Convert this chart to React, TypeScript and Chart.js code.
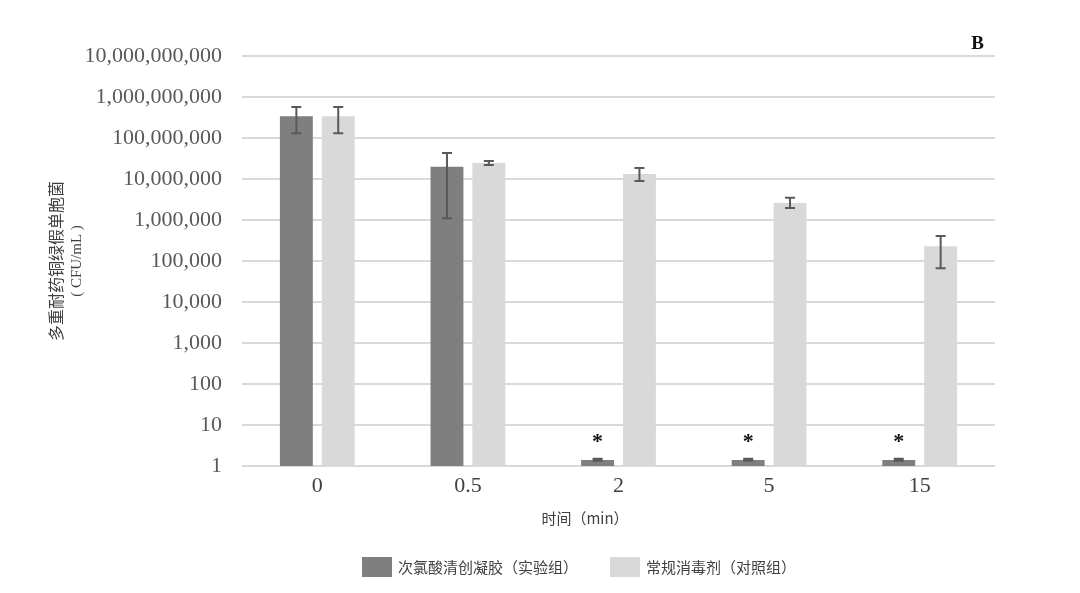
import { useEffect, useRef } from "react";
import Chart from "chart.js/auto";

const categories = ["0", "0.5", "2", "5", "15"];
const seriesNames = ["次氯酸清创凝胶（实验组）", "常规消毒剂（对照组）"];

const gelMeans = [3.4e8, 2.0e7, 1.4, 1.4, 1.4];
const gelHigh = [5.7e8, 4.3e7, 1.5, 1.5, 1.5];
const gelLow = [1.3e8, 1.1e6, 1.35, 1.35, 1.35];

const ctrlMeans = [3.4e8, 2.45e7, 1.32e7, 2.6e6, 2.3e5];
const ctrlHigh = [5.7e8, 2.75e7, 1.86e7, 3.5e6, 4.1e5];
const ctrlLow = [1.3e8, 2.2e7, 8.9e6, 1.95e6, 6.7e4];

const significant = [false, false, true, true, true];

const yTicks = [1, 10, 100, 1e3, 1e4, 1e5, 1e6, 1e7, 1e8, 1e9, 1e10];

const yTitle = ["多重耐药铜绿假单胞菌", "( CFU/mL )"];
const xTitle = "时间（min）";
const panelLabel = "B";

const DARK = "#7f7f7f";
const LIGHT = "#d9d9d9";
const SERIF = "'Liberation Serif', serif";
const SANS = "'Noto Sans CJK SC', 'Noto Sans', sans-serif";

export default function App() {
  const chartRef = useRef<HTMLCanvasElement>(null);
  const chartInstance = useRef<Chart | null>(null);

  useEffect(() => {
    document.body.style.margin = "0";
    if (!chartRef.current) return;
    const ctx = chartRef.current.getContext("2d");
    if (!ctx) return;

    const highs = [gelHigh, ctrlHigh];
    const lows = [gelLow, ctrlLow];

    // error bars, asterisks, titles, legend
    const extras = {
      id: "extras",
      afterDatasetsDraw(chart: any) {
        const c = chart.ctx;
        const y = chart.scales.y;
        c.save();
        c.strokeStyle = "#595959";
        c.lineWidth = 2;
        for (let d = 0; d < 2; d++) {
          const meta = chart.getDatasetMeta(d);
          meta.data.forEach((bar: any, i: number) => {
            const yh = y.getPixelForValue(highs[d][i]);
            const yl = y.getPixelForValue(lows[d][i]);
            c.beginPath();
            c.moveTo(bar.x, yh);
            c.lineTo(bar.x, yl);
            c.moveTo(bar.x - 5, yh);
            c.lineTo(bar.x + 5, yh);
            c.moveTo(bar.x - 5, yl);
            c.lineTo(bar.x + 5, yl);
            c.stroke();
          });
        }
        // significance marks
        const gelMeta = chart.getDatasetMeta(0);
        c.fillStyle = "#111";
        c.font = `bold 22px ${SERIF}`;
        c.textAlign = "center";
        c.textBaseline = "middle";
        gelMeta.data.forEach((bar: any, i: number) => {
          if (!significant[i]) return;
          const top = y.getPixelForValue(gelHigh[i]);
          c.fillText("*", bar.x, top - 16);
        });
        c.restore();
      },
      afterDraw(chart: any) {
        const c = chart.ctx;
        const area = chart.chartArea;
        c.save();
        // panel label
        c.fillStyle = "#111";
        c.font = `bold 19px ${SERIF}`;
        c.textAlign = "right";
        c.textBaseline = "middle";
        c.fillText(panelLabel, area.right - 11, area.top - 12);
        // y title, rotated
        const midY = (area.top + area.bottom) / 2;
        c.fillStyle = "#404040";
        c.textAlign = "center";
        c.save();
        c.translate(56, midY);
        c.rotate(-Math.PI / 2);
        c.font = `16px ${SANS}`;
        c.fillText(yTitle[0], 0, 0);
        c.restore();
        c.save();
        c.translate(77, midY);
        c.rotate(-Math.PI / 2);
        c.font = `15px ${SERIF}`;
        c.fillText(yTitle[1], 0, 0);
        c.restore();
        // x title
        c.font = `15px ${SANS}`;
        c.fillText(xTitle, 585, 518);
        // legend
        const colors = [DARK, LIGHT];
        const boxX = [362, 610];
        c.textAlign = "left";
        for (let k = 0; k < 2; k++) {
          c.fillStyle = colors[k];
          c.fillRect(boxX[k], 557, 30, 20);
          c.fillStyle = "#404040";
          c.fillText(seriesNames[k], boxX[k] + 36, 567);
        }
        c.restore();
      },
    };

    chartInstance.current = new Chart(ctx, {
      type: "bar",
      data: {
        labels: categories,
        datasets: [
          {
            label: seriesNames[0],
            data: gelMeans,
            backgroundColor: DARK,
            categoryPercentage: 0.556,
            barPercentage: 0.786,
          },
          {
            label: seriesNames[1],
            data: ctrlMeans,
            backgroundColor: LIGHT,
            categoryPercentage: 0.556,
            barPercentage: 0.786,
          },
        ],
      },
      plugins: [extras],
      options: {
        responsive: true,
        maintainAspectRatio: false,
        animation: false,
        layout: { padding: { left: 44, right: 85, top: 56, bottom: 0 } },
        plugins: {
          legend: { display: false },
          tooltip: { enabled: false },
        },
        scales: {
          x: {
            grid: { display: false, drawTicks: false },
            border: { display: false },
            ticks: {
              color: "#404040",
              padding: 7,
              font: { family: SERIF, size: 22 },
            },
            afterFit: (scale: any) => {
              scale.height = 127;
            },
          },
          y: {
            type: "logarithmic",
            min: 1,
            max: 1e10,
            border: { display: false },
            grid: { color: LIGHT, lineWidth: 2, drawTicks: false },
            ticks: {
              color: "#595959",
              padding: 20,
              font: { family: SERIF, size: 22 },
              callback: (v: any) => Number(v).toLocaleString("en-US"),
            },
            afterBuildTicks: (scale: any) => {
              scale.ticks = yTicks.map((v) => ({ value: v, major: true }));
            },
            afterFit: (scale: any) => {
              scale.width = 198;
            },
          },
        },
      },
    });

    return () => {
      if (chartInstance.current) {
        chartInstance.current.destroy();
        chartInstance.current = null;
      }
    };
  }, []);

  return (
    <div style={{ width: 1080, height: 593, position: "relative", background: "#fff" }}>
      <canvas ref={chartRef}></canvas>
    </div>
  );
}
